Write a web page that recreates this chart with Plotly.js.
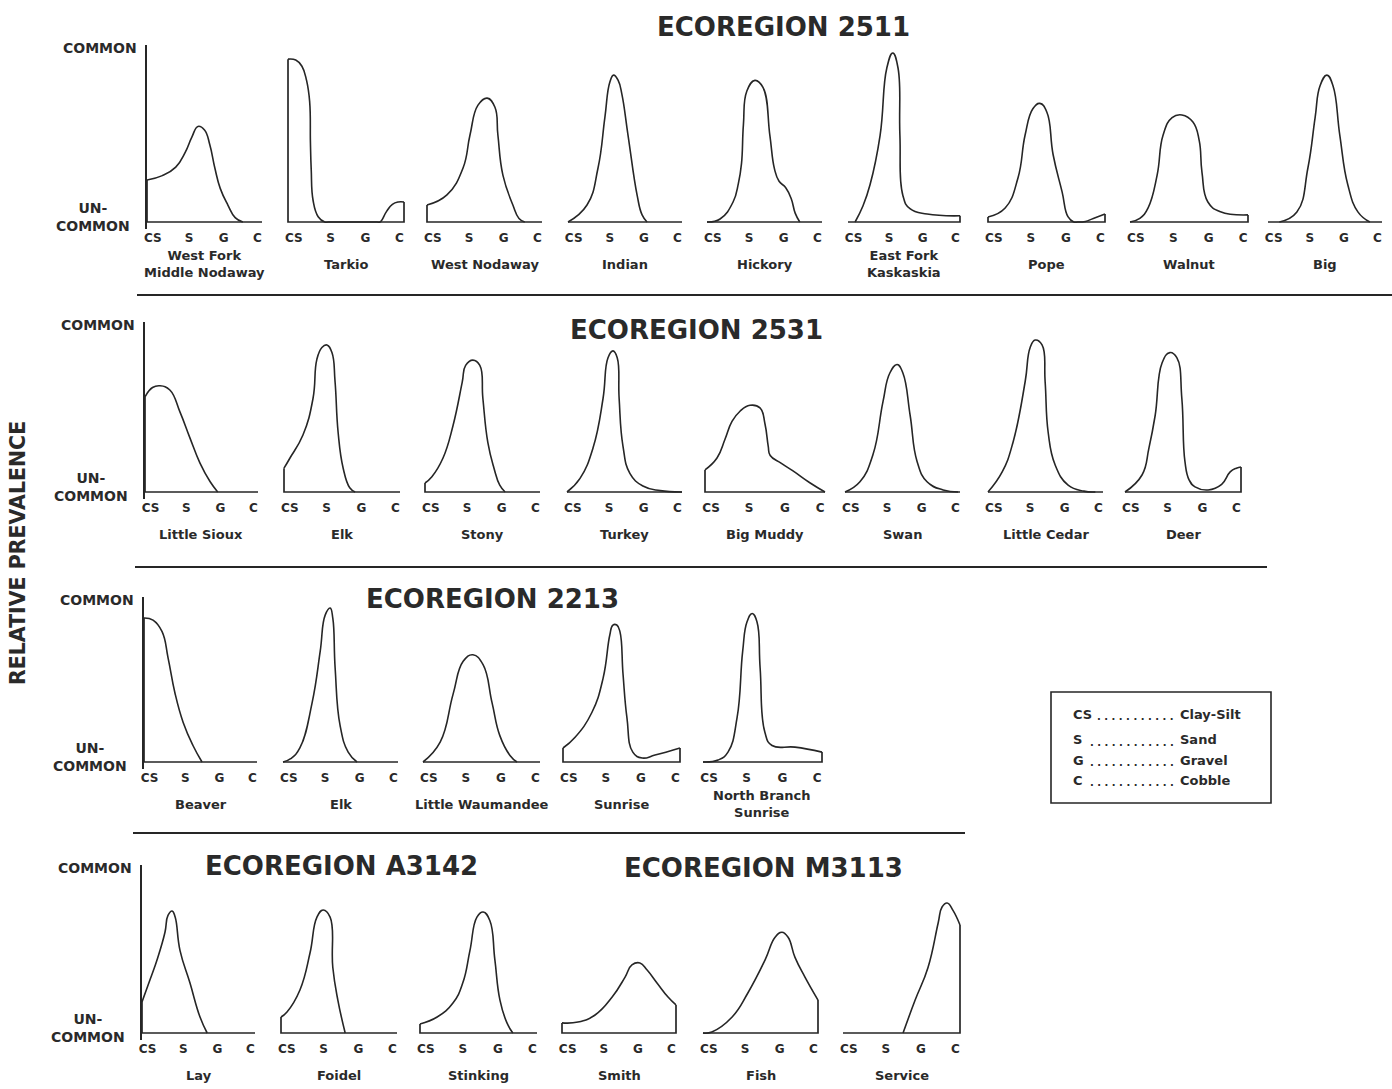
<!DOCTYPE html>
<html><head><meta charset="utf-8">
<script src="https://cdn.plot.ly/plotly-3.0.1.min.js"></script>
<style>html,body{margin:0;padding:0;background:#fff;}#chart{width:1392px;height:1089px;}</style>
</head><body><div id="chart"></div>
<script>
// ---------- DATA ----------
const substrateCodes = ["CS", "S", "G", "C"];
const substrateNames = ["Clay-Silt", "Sand", "Gravel", "Cobble"];
const ecoregionTitles = ["ECOREGION 2511", "ECOREGION 2531", "ECOREGION 2213", "ECOREGION A3142", "ECOREGION M3113"];
const axisHigh = "COMMON";
const axisLow = "UN-<br>COMMON";
const yTitle = "RELATIVE PREVALENCE";

// each curve: [substrate position (CS=0 ... C=3 edge), relative prevalence (0 uncommon .. 1 common)]
// Ecoregion 2511
const westForkMiddleNodaway = [[0,0.237],[0.4,0.262],[0.75,0.31],[1.0,0.395],[1.17,0.48],[1.33,0.54],[1.5,0.52],[1.64,0.435],[1.77,0.305],[1.91,0.19],[2.11,0.096],[2.3,0.025],[2.5,0]];
const tarkio = [[0,0.92],[0.2,0.915],[0.36,0.88],[0.48,0.8],[0.56,0.68],[0.58,0.45],[0.6,0.3],[0.65,0.12],[0.78,0.03],[0.95,0],[1.05,0],[2.3,0],[2.38,0],[2.55,0.06],[2.7,0.1],[2.85,0.113],[3,0.113]];
const westNodaway = [[0,0.096],[0.52,0.153],[0.94,0.305],[1.12,0.49],[1.33,0.66],[1.57,0.70],[1.77,0.65],[1.85,0.49],[1.98,0.265],[2.24,0.096],[2.4,0.02],[2.55,0]];
const indian = [[0,0],[0.5,0.096],[0.79,0.305],[0.97,0.59],[1.1,0.79],[1.2,0.83],[1.32,0.8],[1.42,0.72],[1.58,0.49],[1.82,0.15],[1.95,0.04],[2.08,0]];
const hickory = [[0,0],[0.34,0.017],[0.68,0.113],[0.82,0.22],[0.9,0.33],[0.95,0.55],[1.04,0.74],[1.25,0.80],[1.46,0.76],[1.64,0.49],[1.76,0.3],[1.88,0.23],[2.05,0.195],[2.2,0.13],[2.3,0.05],[2.42,0]];
const eastForkKaskaskia = [[0.19,0],[0.4,0.09],[0.59,0.21],[0.86,0.49],[1.04,0.87],[1.2,0.955],[1.34,0.87],[1.39,0.49],[1.47,0.15],[1.66,0.075],[2.12,0.045],[3,0.035]];
const pope = [[0,0.028],[0.44,0.079],[0.77,0.25],[0.95,0.49],[1.15,0.64],[1.33,0.67],[1.51,0.62],[1.67,0.38],[1.9,0.17],[2.05,0.03],[2.2,0],[2.3,0],[2.4,0],[2.5,0.003],[2.7,0.02],[3,0.045]];
const walnut = [[0,0],[0.25,0.02],[0.46,0.08],[0.69,0.265],[0.84,0.49],[1.07,0.59],[1.32,0.605],[1.6,0.565],[1.76,0.46],[1.83,0.28],[1.98,0.113],[2.3,0.058],[3,0.04]];
const big = [[0.3,0],[0.76,0.056],[1.05,0.305],[1.24,0.59],[1.37,0.77],[1.55,0.83],[1.71,0.77],[1.89,0.49],[2.1,0.21],[2.37,0.056],[2.68,0]];
// Ecoregion 2531
const littleSioux = [[0,0.56],[0.2,0.615],[0.4,0.625],[0.66,0.6],[0.93,0.47],[1.19,0.32],[1.46,0.17],[1.73,0.06],[1.93,0]];
const elk2531 = [[0,0.14],[0.155,0.2],[0.49,0.335],[0.75,0.55],[0.85,0.78],[0.98,0.85],[1.11,0.865],[1.24,0.82],[1.32,0.65],[1.4,0.35],[1.53,0.14],[1.7,0.025],[1.84,0]];
const stony = [[0,0.053],[0.18,0.09],[0.47,0.2],[0.73,0.39],[0.97,0.645],[1.06,0.745],[1.25,0.776],[1.43,0.745],[1.51,0.55],[1.64,0.29],[1.8,0.14],[1.95,0.04],[2.09,0]];
const turkey = [[0,0],[0.34,0.08],[0.68,0.26],[0.94,0.55],[1.07,0.79],[1.2,0.83],[1.31,0.79],[1.36,0.55],[1.46,0.27],[1.64,0.11],[1.98,0.035],[2.43,0.008],[3,0]];
const bigMuddy = [[0,0.13],[0.3,0.2],[0.5,0.31],[0.675,0.415],[0.875,0.475],[1.125,0.51],[1.375,0.495],[1.5,0.4],[1.58,0.27],[1.63,0.215],[1.9,0.17],[2.2,0.124],[2.63,0.053],[3,0]];
const swan = [[0,0],[0.39,0.06],[0.73,0.22],[0.99,0.53],[1.17,0.7],[1.36,0.75],[1.51,0.7],[1.7,0.45],[1.88,0.18],[2.14,0.06],[2.56,0.012],[2.95,0]];
const littleCedar = [[0,0],[0.37,0.118],[0.65,0.29],[0.97,0.65],[1.1,0.85],[1.23,0.894],[1.41,0.865],[1.49,0.65],[1.57,0.35],[1.75,0.16],[2.09,0.04],[2.5,0.005],[2.8,0]];
const deer = [[0,0],[0.44,0.1],[0.62,0.26],[0.78,0.45],[0.96,0.76],[1.16,0.82],[1.34,0.79],[1.47,0.55],[1.55,0.18],[1.66,0.07],[1.81,0.03],[2.15,0.012],[2.5,0.045],[2.72,0.118],[2.88,0.14],[3,0.147]];
// Ecoregion 2213
const beaver = [[0,0.873],[0.24,0.86],[0.48,0.79],[0.64,0.63],[0.82,0.42],[1.04,0.24],[1.3,0.1],[1.54,0]];
const elk2213 = [[0,0],[0.2,0.02],[0.44,0.085],[0.76,0.36],[0.97,0.67],[1.1,0.89],[1.23,0.933],[1.3,0.87],[1.36,0.57],[1.49,0.22],[1.7,0.06],[1.93,0]];
const littleWaumandee = [[0,0],[0.44,0.12],[0.77,0.41],[1.03,0.61],[1.28,0.65],[1.54,0.59],[1.77,0.36],[1.97,0.16],[2.23,0.04],[2.41,0]];
const sunrise = [[0,0.085],[0.31,0.15],[0.74,0.3],[1.03,0.51],[1.2,0.77],[1.28,0.83],[1.38,0.83],[1.46,0.79],[1.54,0.53],[1.64,0.267],[1.79,0.06],[2.03,0.024],[2.36,0.042],[3,0.085]];
const northBranchSunrise = [[0,0],[0.38,0.012],[0.63,0.06],[0.86,0.27],[1.0,0.67],[1.11,0.85],[1.24,0.9],[1.36,0.85],[1.44,0.57],[1.56,0.18],[1.74,0.1],[2.32,0.09],[3,0.06]];
// Ecoregions A3142 and M3113
const lay = [[0,0.185],[0.21,0.315],[0.42,0.45],[0.61,0.6],[0.69,0.7],[0.8,0.726],[0.88,0.69],[1.01,0.49],[1.27,0.3],[1.54,0.095],[1.73,0]];
const foidel = [[0,0.095],[0.155,0.125],[0.49,0.256],[0.75,0.476],[0.93,0.69],[1.09,0.732],[1.27,0.69],[1.34,0.39],[1.47,0.196],[1.66,0]];
const stinking = [[0,0.054],[0.44,0.095],[0.85,0.18],[1.1,0.3],[1.28,0.49],[1.46,0.69],[1.62,0.72],[1.79,0.67],[1.92,0.435],[2.05,0.196],[2.23,0.06],[2.38,0]];
const smith = [[0,0.06],[0.42,0.065],[0.87,0.107],[1.32,0.214],[1.66,0.333],[1.84,0.405],[2.05,0.417],[2.24,0.375],[2.5,0.298],[2.79,0.214],[3,0.167]];
const fish = [[0,0],[0.23,0.006],[0.76,0.095],[1.17,0.238],[1.62,0.435],[1.88,0.57],[2.06,0.6],[2.22,0.57],[2.4,0.45],[2.66,0.333],[3,0.196]];
const service = [[1.54,0],[1.85,0.196],[2.18,0.39],[2.44,0.655],[2.54,0.75],[2.67,0.774],[2.82,0.73],[3,0.643]];

const row1Names = ["West Fork<br>Middle Nodaway","Tarkio","West Nodaway","Indian","Hickory","East Fork<br>Kaskaskia","Pope","Walnut","Big"];
const row1Curves = [westForkMiddleNodaway,tarkio,westNodaway,indian,hickory,eastForkKaskaskia,pope,walnut,big];
const row2Names = ["Little Sioux","Elk","Stony","Turkey","Big Muddy","Swan","Little Cedar","Deer"];
const row2Curves = [littleSioux,elk2531,stony,turkey,bigMuddy,swan,littleCedar,deer];
const row3Names = ["Beaver","Elk","Little Waumandee","Sunrise","North Branch<br>Sunrise"];
const row3Curves = [beaver,elk2213,littleWaumandee,sunrise,northBranchSunrise];
const row4Names = ["Lay","Foidel","Stinking","Smith","Fish","Service"];
const row4Curves = [lay,foidel,stinking,smith,fish,service];

// ---------- LAYOUT (pixel geometry of the page) ----------
const W = 1392, H = 1089;
const INK = "#262626";
const FONT = "DejaVu Sans";
const rowsGeom = [
  {top:45, base:222, boxes:[[147,262],[288,404],[427,542],[568,682],[707,822],[848,960],[988,1105],[1130,1248],[1268,1382]]},
  {top:322, base:492, boxes:[[145,258],[284,400],[425,540],[567,682],[705,825],[845,960],[988,1103],[1125,1241]]},
  {top:597, base:762, boxes:[[144,257],[283,398],[423,540],[563,680],[703,822]]},
  {top:865, base:1033, boxes:[[142,255],[281,397],[420,537],[562,676],[703,818],[843,960]]}
];
const rowNames = [row1Names,row2Names,row3Names,row4Names];
const rowCurves = [row1Curves,row2Curves,row3Curves,row4Curves];
const tickPos = [0.15,1.1,2.0,2.88];
const titleGeom = [[783,27],[696,330],[492,599],[341,866],[763,868]];
const dividers = [[137,1392,295],[135,1267,567],[133,965,833]];
const PADX = 0.04, PADY = 0.04;

const px = v => v / W;
const py = v => 1 - v / H;
const bold = (size) => ({family: FONT, size: size, color: "#2a2a2a", weight: "bold"});

const traces = [];
const annotations = [];
const shapes = [];
const layout = {
  width: W, height: H, margin: {l:0,r:0,t:0,b:0},
  paper_bgcolor: "#fff", plot_bgcolor: "rgba(0,0,0,0)",
  showlegend: false, hovermode: false
};

let k = 0;
rowsGeom.forEach((row, r) => {
  const hpx = row.base - row.top;
  row.boxes.forEach((b, i) => {
    k++;
    const sfx = k === 1 ? "" : String(k);
    const pts = rowCurves[r][i];
    const xs = pts.map(p => p[0]);
    const ys = pts.map(p => p[1]);
    const unit = (b[1] - b[0]) / 3;
    const first = i === 0;
    const xl = first ? b[0] : b[0] - PADX * unit;
    const xr = b[1] + PADX * unit;
    const yb = row.base + PADY * hpx;
    layout["xaxis" + sfx] = {
      domain: [px(xl), px(xr)], range: [first ? 0 : -PADX, 3 + PADX], anchor: "y" + sfx,
      showgrid: false, zeroline: false, showline: false, ticks: "",
      tickmode: "array", tickvals: tickPos, ticktext: substrateCodes,
      tickfont: bold(12), fixedrange: true
    };
    layout["yaxis" + sfx] = {
      domain: [py(yb), py(row.top)], range: [-PADY, 1], anchor: "x" + sfx,
      showgrid: false, zeroline: false, showticklabels: false, ticks: "",
      showline: first, linecolor: INK, linewidth: 2.2, fixedrange: true
    };
    const leftH = xs[0] === 0 ? ys[0] : 0;
    const rightH = xs[xs.length - 1] === 3 ? ys[ys.length - 1] : 0;
    traces.push({x:[0,0,3,3], y:[leftH,0,0,rightH], xaxis:"x"+sfx, yaxis:"y"+sfx,
      mode:"lines", line:{color:INK, width:1.7}, hoverinfo:"skip"});
    traces.push({x:xs, y:ys, xaxis:"x"+sfx, yaxis:"y"+sfx, mode:"lines",
      line:{color:INK, width:1.6, shape:"spline", smoothing:1.3}, hoverinfo:"skip"});
    annotations.push({text: rowNames[r][i], x: px((b[0]+b[1])/2), y: py(row.base + 42),
      xref:"paper", yref:"paper", showarrow:false, xanchor:"center", yanchor:"middle",
      align:"center", font: bold(13)});
  });
  const ax = row.boxes[0][0];
  annotations.push({text: axisHigh, x: px(ax - 8), y: py(row.top + 3), xref:"paper", yref:"paper",
    showarrow:false, xanchor:"right", yanchor:"middle", font: bold(14)});
  annotations.push({text: axisLow, x: px(ax - 54), y: py(row.base - 5), xref:"paper", yref:"paper",
    showarrow:false, xanchor:"center", yanchor:"middle", align:"center", font: bold(14)});
});

ecoregionTitles.forEach((t, i) => {
  annotations.push({text: t, x: px(titleGeom[i][0]), y: py(titleGeom[i][1]), xref:"paper", yref:"paper",
    showarrow:false, xanchor:"center", yanchor:"middle", font: bold(26)});
});

annotations.push({text: yTitle, x: px(18), y: py(553), xref:"paper", yref:"paper", textangle:-90,
  showarrow:false, xanchor:"center", yanchor:"middle", font: bold(20.5)});

dividers.forEach(d => shapes.push({type:"line", xref:"paper", yref:"paper",
  x0: px(d[0]), x1: px(d[1]), y0: py(d[2]), y1: py(d[2]), line:{color:INK, width:2.2}}));

// legend box
shapes.push({type:"rect", xref:"paper", yref:"paper", x0:px(1051), x1:px(1271), y0:py(803), y1:py(692),
  line:{color:INK, width:1.6}});
const legendY = [714, 740, 760, 780];
const leaders = [". . . . . . . . . . .", ". . . . . . . . . . . .", ". . . . . . . . . . . .", ". . . . . . . . . . . ."];
substrateCodes.forEach((c, i) => {
  annotations.push({text: c, x: px(1071), y: py(legendY[i]), xref:"paper", yref:"paper", showarrow:false,
    xanchor:"left", yanchor:"middle", font: bold(13)});
  annotations.push({text: leaders[i], x: px(1176), y: py(legendY[i] + 2), xref:"paper", yref:"paper", showarrow:false,
    xanchor:"right", yanchor:"middle", font: bold(10)});
  annotations.push({text: substrateNames[i], x: px(1178), y: py(legendY[i]), xref:"paper", yref:"paper", showarrow:false,
    xanchor:"left", yanchor:"middle", font: bold(13)});
});

layout.annotations = annotations;
layout.shapes = shapes;
Plotly.newPlot("chart", traces, layout, {staticPlot: true, displayModeBar: false});
</script>
</body></html>
